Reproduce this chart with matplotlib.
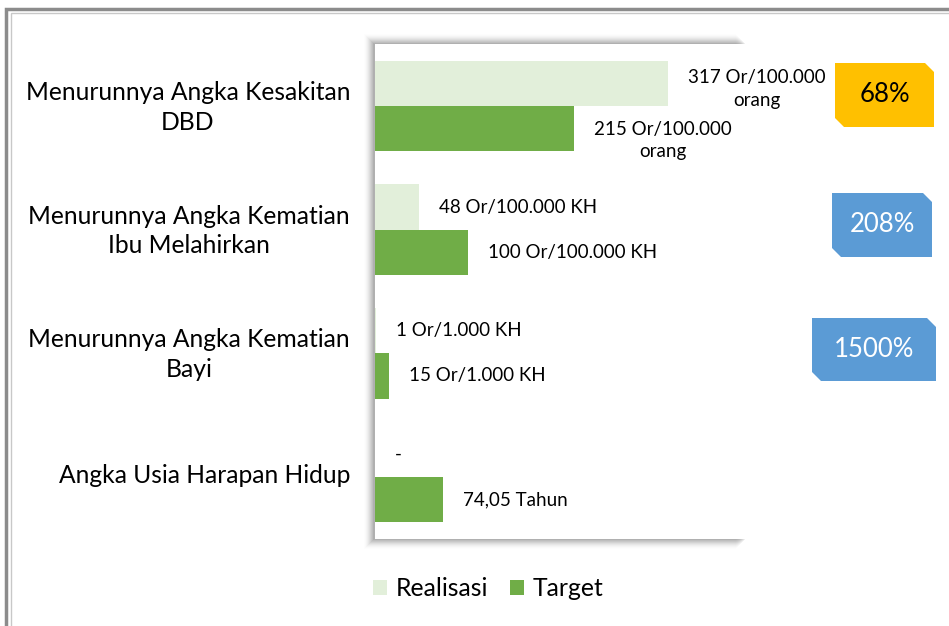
import matplotlib
matplotlib.use("Agg")
import matplotlib.pyplot as plt
import matplotlib.transforms as mtransforms
import numpy as np
from matplotlib.patches import Polygon, Rectangle

plt.rcParams['font.family'] = ['Lato', 'DejaVu Sans']

categories = ['Menurunnya Angka Kesakitan\nDBD',
              'Menurunnya Angka Kematian\nIbu Melahirkan',
              'Menurunnya Angka Kematian\nBayi',
              'Angka Usia Harapan Hidup']
realisasi = [317, 48, 1, 0]
target = [215, 100, 15, 74.05]
realisasi_labels = ['317 Or/100.000\norang', '48 Or/100.000 KH', '1 Or/1.000 KH', '-']
target_labels = ['215 Or/100.000\norang', '100 Or/100.000 KH', '15 Or/1.000 KH', '74,05 Tahun']
badge_colors = ['#FFC000', '#5B9BD5', '#5B9BD5']
badge_text_colors = ['black', 'white', 'white']

W, H = 949, 626
fig = plt.figure(figsize=(W / 100, H / 100), dpi=100)

def px(x, y):
    return x / W, 1 - y / H

# outer frame (right and bottom edges fall outside the picture)
fig.patches.append(Rectangle(px(6, 660), 960 / W, 651 / H, transform=fig.transFigure,
                             fill=False, edgecolor='#8c8c8c', linewidth=2.5))
fig.patches.append(Rectangle(px(11, 660), 960 / W, 647 / H, transform=fig.transFigure,
                             fill=False, edgecolor='#c8c8c8', linewidth=1))

# soft shadow round the plot area
for i in range(10):
    a = 0.06 * (10 - i) / 10
    fig.patches.append(Rectangle(px(374 - i - 1, 540 + i), 372 / W, (497 + 2 * i) / H,
                                 transform=fig.transFigure, facecolor='black',
                                 alpha=a, edgecolor='none', zorder=0))

left, top = px(375, 44)
_, bottom = px(375, 539)
ax = fig.add_axes([left, bottom, 370 / W, top - bottom], zorder=1)
ax.set_facecolor('white')

y = np.arange(len(categories))
h = 0.365
ax.barh(y - h / 2, realisasi, height=h, color='#E2EFDA', label='Realisasi')
ax.barh(y + h / 2, target, height=h, color='#70AD47', label='Target')

for yi, v, lab in zip(y - h / 2, realisasi, realisasi_labels):
    dy = -6 if '\n' in lab else 0
    ax.annotate(lab, (v, yi), xytext=(20, dy), textcoords='offset pixels',
                ha='left', va='center', multialignment='center', fontsize=13.5,
                linespacing=1.4)
for yi, v, lab in zip(y + h / 2, target, target_labels):
    dy = -12 if '\n' in lab else 0
    ax.annotate(lab, (v, yi), xytext=(20, dy), textcoords='offset pixels',
                ha='left', va='center', multialignment='center', fontsize=13.5,
                linespacing=1.4)

ax.set_xlim(0, 400)
ax.set_ylim(len(categories) - 0.5, -0.5)
ax.set_xticks([])
ax.set_yticks(y)
ax.set_yticklabels(categories, fontsize=17.7, multialignment='center', linespacing=1.35)
ax.tick_params(axis='y', length=0, pad=18)
shift = mtransforms.ScaledTranslation(0, 4 / 100, fig.dpi_scale_trans)
for lbl in ax.get_yticklabels():
    lbl.set_transform(lbl.get_transform() + shift)
for s in ax.spines.values():
    s.set_visible(False)

# percentage badges (target / realisasi)
badge_boxes = [(835, 63, 934, 127), (832, 193, 932, 257), (812, 318, 936, 381)]
cut = 9
for (x0, y0, x1, y1), r, t, fc, tc in zip(badge_boxes, realisasi, target,
                                         badge_colors, badge_text_colors):
    pts = [(x0, y0), (x1 - cut, y0), (x1, y0 + cut), (x1, y1),
           (x0 + cut, y1), (x0, y1 - cut)]
    fig.patches.append(Polygon([px(a, b) for a, b in pts], closed=True,
                               transform=fig.transFigure, facecolor=fc,
                               edgecolor='none', zorder=2))
    cx, cy = px((x0 + x1) / 2, (y0 + y1) / 2)
    fig.text(cx, cy, f'{t / r * 100:.0f}%', ha='center', va='center',
             fontsize=18.5, color=tc, zorder=3)

fig.legend(loc='center', bbox_to_anchor=px(488, 589), ncol=2, frameon=False,
           fontsize=17.8, handlelength=0.55, handleheight=0.55, handletextpad=0.35,
           columnspacing=0.9)

fig.savefig('out.png', dpi=100, facecolor='white')
